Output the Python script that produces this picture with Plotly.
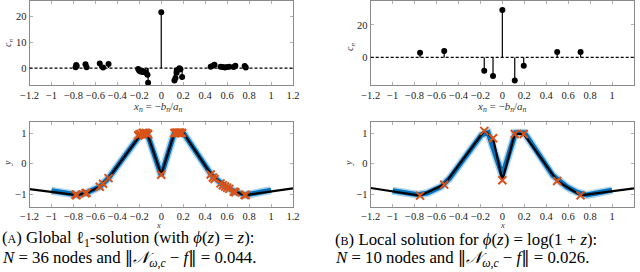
import plotly.graph_objects as go

# ---------------- data ----------------
# (A) global l1 solution: node positions x_n and outer weights c_n
a_nodes_x = [-0.78, -0.775, -0.77, -0.69, -0.68, -0.56, -0.53, -0.48,
             -0.21, -0.20, -0.19, -0.17, -0.16, -0.14, -0.125, -0.12,
             0.0,
             0.12, 0.13, 0.14, 0.155, 0.165, 0.175, 0.19,
             0.45, 0.47, 0.485, 0.54, 0.56, 0.58, 0.60, 0.62, 0.66, 0.675, 0.76, 0.77]
a_nodes_c = [0.3, 1.2, 0.8, 1.5, 0.3, 1.8, 0.2, 1.6,
             -0.3, -1.0, -1.3, -1.5, -1.4, -1.8, -2.6, -5.6,
             21.5,
             -4.8, -3.8, -1.8, -0.6, -0.1, -0.4, -3.4,
             0.5, 0.9, 1.3, 0.5, 0.4, 0.2, 0.4, 0.5, 0.4, 0.9, 0.8, 0.2]
# network output at the nodes (orange crosses)
a_nodes_y = [-1.01, -1.02, -1.02, -0.96, -0.95, -0.75, -0.65, -0.47,
             0.92, 0.95, 0.97, 1.0, 1.0, 1.0, 0.98, 0.96,
             -0.36,
             1.0, 1.0, 1.01, 1.01, 1.01, 1.01, 1.0,
             -0.35, -0.45, -0.50, -0.64, -0.70, -0.74, -0.78, -0.82, -0.91, -0.93, -1.02, -1.02]
# network output curve (A)
a_curve_x = [-1.2, -0.77, -0.68, -0.56, -0.48, -0.19, -0.13, 0.0, 0.12, 0.2, 0.46, 0.59, 0.68, 0.77, 1.2]
a_curve_y = [-0.83, -1.02, -0.95, -0.75, -0.47, 0.94, 1.01, -0.36, 1.01, 1.01, -0.38, -0.76, -0.93, -1.02, -0.80]

# (B) local solution
b_nodes_x = [-0.75, -0.53, -0.165, -0.085, 0.0, 0.113, 0.195, 0.5, 0.713]
b_nodes_c = [2.9, 3.9, -8.2, -11.4, 29.2, -14.3, -5.1, 3.3, 3.3]
b_nodes_y = [-1.04, -0.68, 1.07, 0.83, -0.54, 0.97, 0.97, -0.56, -1.03]
b_curve_x = [-1.2, -0.75, -0.53, -0.165, -0.085, 0.0, 0.113, 0.195, 0.5, 0.713, 1.2]
b_curve_y = [-0.79, -1.04, -0.68, 1.07, 0.83, -0.54, 0.97, 0.97, -0.56, -1.03, -0.80]

# noisy training data band (blue)
data_x = [-1.0, -0.9, -0.77, -0.68, -0.56, -0.48, -0.19, -0.13, 0.0, 0.12, 0.2, 0.46, 0.59, 0.68, 0.77, 0.9, 1.0]
data_y = [-0.88, -0.93, -1.01, -0.95, -0.75, -0.47, 0.94, 1.01, -0.38, 1.01, 1.01, -0.38, -0.76, -0.93, -1.02, -0.93, -0.86]

x_tickvals = [-1.2, -1.0, -0.8, -0.6, -0.4, -0.2, 0.0, 0.2, 0.4, 0.6, 0.8, 1.0, 1.2]
x_ticktext = ["\u22121.2", "\u22121", "\u22120.8", "\u22120.6", "\u22120.4", "\u22120.2", "0",
              "0.2", "0.4", "0.6", "0.8", "1", "1.2"]

BLUE = "#0072BD"
ORANGE = "#D95319"
FONT = "'Liberation Serif', 'DejaVu Serif', serif"

fig = go.Figure()


def stems(xs, cs):
    sx, sy = [], []
    for x, c in zip(xs, cs):
        sx += [x, x, None]
        sy += [0, c, None]
    return sx, sy


for (nx, nc, xa, ya) in [(a_nodes_x, a_nodes_c, "x", "y"), (b_nodes_x, b_nodes_c, "x2", "y2")]:
    sx, sy = stems(nx, nc)
    fig.add_trace(go.Scatter(x=sx, y=sy, mode="lines", line=dict(color="black", width=1.2),
                             xaxis=xa, yaxis=ya, hoverinfo="skip"))
    fig.add_trace(go.Scatter(x=nx, y=nc, mode="markers", marker=dict(color="black", size=6),
                             xaxis=xa, yaxis=ya))

for (cx, cy, nx, ny, xa, ya) in [(a_curve_x, a_curve_y, a_nodes_x, a_nodes_y, "x3", "y3"),
                                 (b_curve_x, b_curve_y, b_nodes_x, b_nodes_y, "x4", "y4")]:
    fig.add_trace(go.Scatter(x=data_x, y=data_y, mode="lines",
                             line=dict(color=BLUE, width=8), opacity=0.3, xaxis=xa, yaxis=ya))
    fig.add_trace(go.Scatter(x=data_x, y=data_y, mode="lines",
                             line=dict(color=BLUE, width=5), xaxis=xa, yaxis=ya))
    fig.add_trace(go.Scatter(x=cx, y=cy, mode="lines", line=dict(color="black", width=2.2),
                             xaxis=xa, yaxis=ya))
    fig.add_trace(go.Scatter(x=nx, y=ny, mode="markers",
                             marker=dict(symbol="x-thin", size=8, line=dict(color=ORANGE, width=2)),
                             xaxis=xa, yaxis=ya))

# dashed zero lines in the top panels
for xr, yr in [("x domain", "y"), ("x2 domain", "y2")]:
    fig.add_shape(type="line", xref=xr, yref=yr, x0=0, x1=1, y0=0, y1=0,
                  line=dict(color="black", width=1.2, dash="3px,2px"))

W, H = 640, 272
xdomL = [29.5 / W, 293 / W]
xdomR = [370.7 / W, 634 / W]
ydomT = [1 - 85 / H, 1 - 0.5 / H]
ydomB = [1 - 206.7 / H, 1 - 122.3 / H]

axis_common = dict(showgrid=False, zeroline=False, showline=True, linecolor="#8a8a8a", linewidth=1,
                   mirror="ticks", ticks="inside", ticklen=3, tickcolor="#b0b0b0",
                   tickfont=dict(family=FONT, size=10.5, color="#222"))

xaxis_kw = dict(axis_common, range=[-1.2, 1.2], tickvals=x_tickvals, ticktext=x_ticktext)

fig.update_layout(
    width=W, height=H, margin=dict(l=0, r=0, t=0, b=0, autoexpand=False),
    paper_bgcolor="white", plot_bgcolor="white", showlegend=False,
    font=dict(family=FONT, color="#222"),
    xaxis=dict(xaxis_kw, domain=xdomL, anchor="y"),
    yaxis=dict(axis_common, domain=ydomT, anchor="x", range=[-6.5, 26], tickvals=[0, 10, 20]),
    xaxis2=dict(xaxis_kw, domain=xdomR, anchor="y2"),
    yaxis2=dict(axis_common, domain=ydomT, anchor="x2", range=[-17, 35], tickvals=[0, 20]),
    xaxis3=dict(xaxis_kw, domain=xdomL, anchor="y3"),
    yaxis3=dict(axis_common, domain=ydomB, anchor="x3", range=[-1.4, 1.35], tickvals=[-1, 0, 1],
                ticktext=["\u22121", "0", "1"]),
    xaxis4=dict(xaxis_kw, domain=xdomR, anchor="y4"),
    yaxis4=dict(axis_common, domain=ydomB, anchor="x4", range=[-1.4, 1.35], tickvals=[-1, 0, 1],
                ticktext=["\u22121", "0", "1"]),
)


def ann(text, x, y, size=10, angle=0, xanchor="center", color="#333"):
    fig.add_annotation(text=text, x=x / W, y=1 - y / H, xref="paper", yref="paper",
                       showarrow=False, textangle=angle, xanchor=xanchor, yanchor="middle",
                       font=dict(family=FONT, size=size, color=color))


xn_title = "<i>x<sub>n</sub></i> = \u2212<i>b<sub>n</sub></i>/<i>a<sub>n</sub></i>"
ann(xn_title, 158, 107, size=11)
ann(xn_title, 502, 107, size=11)
ann("<i>c<sub>n</sub></i>", 8, 43, angle=-90)
ann("<i>c<sub>n</sub></i>", 350, 47, angle=-90)
ann("<i>y</i>", 7, 163, angle=-90)
ann("<i>y</i>", 348, 163, angle=-90)
ann("<i>x</i>", 158, 225, size=8.5)
ann("<i>x</i>", 502, 225, size=8.5)

cap = 16.8
sc = "<span style='font-size:12px'>%s</span>"
norm = "<span style=\"font-family:'DejaVu Serif'\">\u2016</span>"
ann("(" + sc % "A" + ") Global \u2113<sub>1</sub>-solution (with <i>\u03d5</i>(<i>z</i>) = <i>z</i>):",
    0, 239, size=cap, xanchor="left", color="black")
ann("<i>N</i> = 36 nodes and " + norm + "<i>\U0001d4a9</i><sub><i>\u03c9,c</i></sub> \u2212 <i>f</i>" + norm + " = 0.044.",
    0, 258, size=cap, xanchor="left", color="black")
ann("(" + sc % "B" + ") Local solution for <i>\u03d5</i>(<i>z</i>) = log(1 + <i>z</i>):",
    333, 239, size=cap, xanchor="left", color="black")
ann("<i>N</i> = 10 nodes and " + norm + "<i>\U0001d4a9</i><sub><i>\u03c9,c</i></sub> \u2212 <i>f</i>" + norm + " = 0.026.",
    333, 258, size=cap, xanchor="left", color="black")

fig.write_html("out.html", config={"displayModeBar": False},
               post_script="document.body.style.margin='0';document.body.style.overflow='hidden';")
